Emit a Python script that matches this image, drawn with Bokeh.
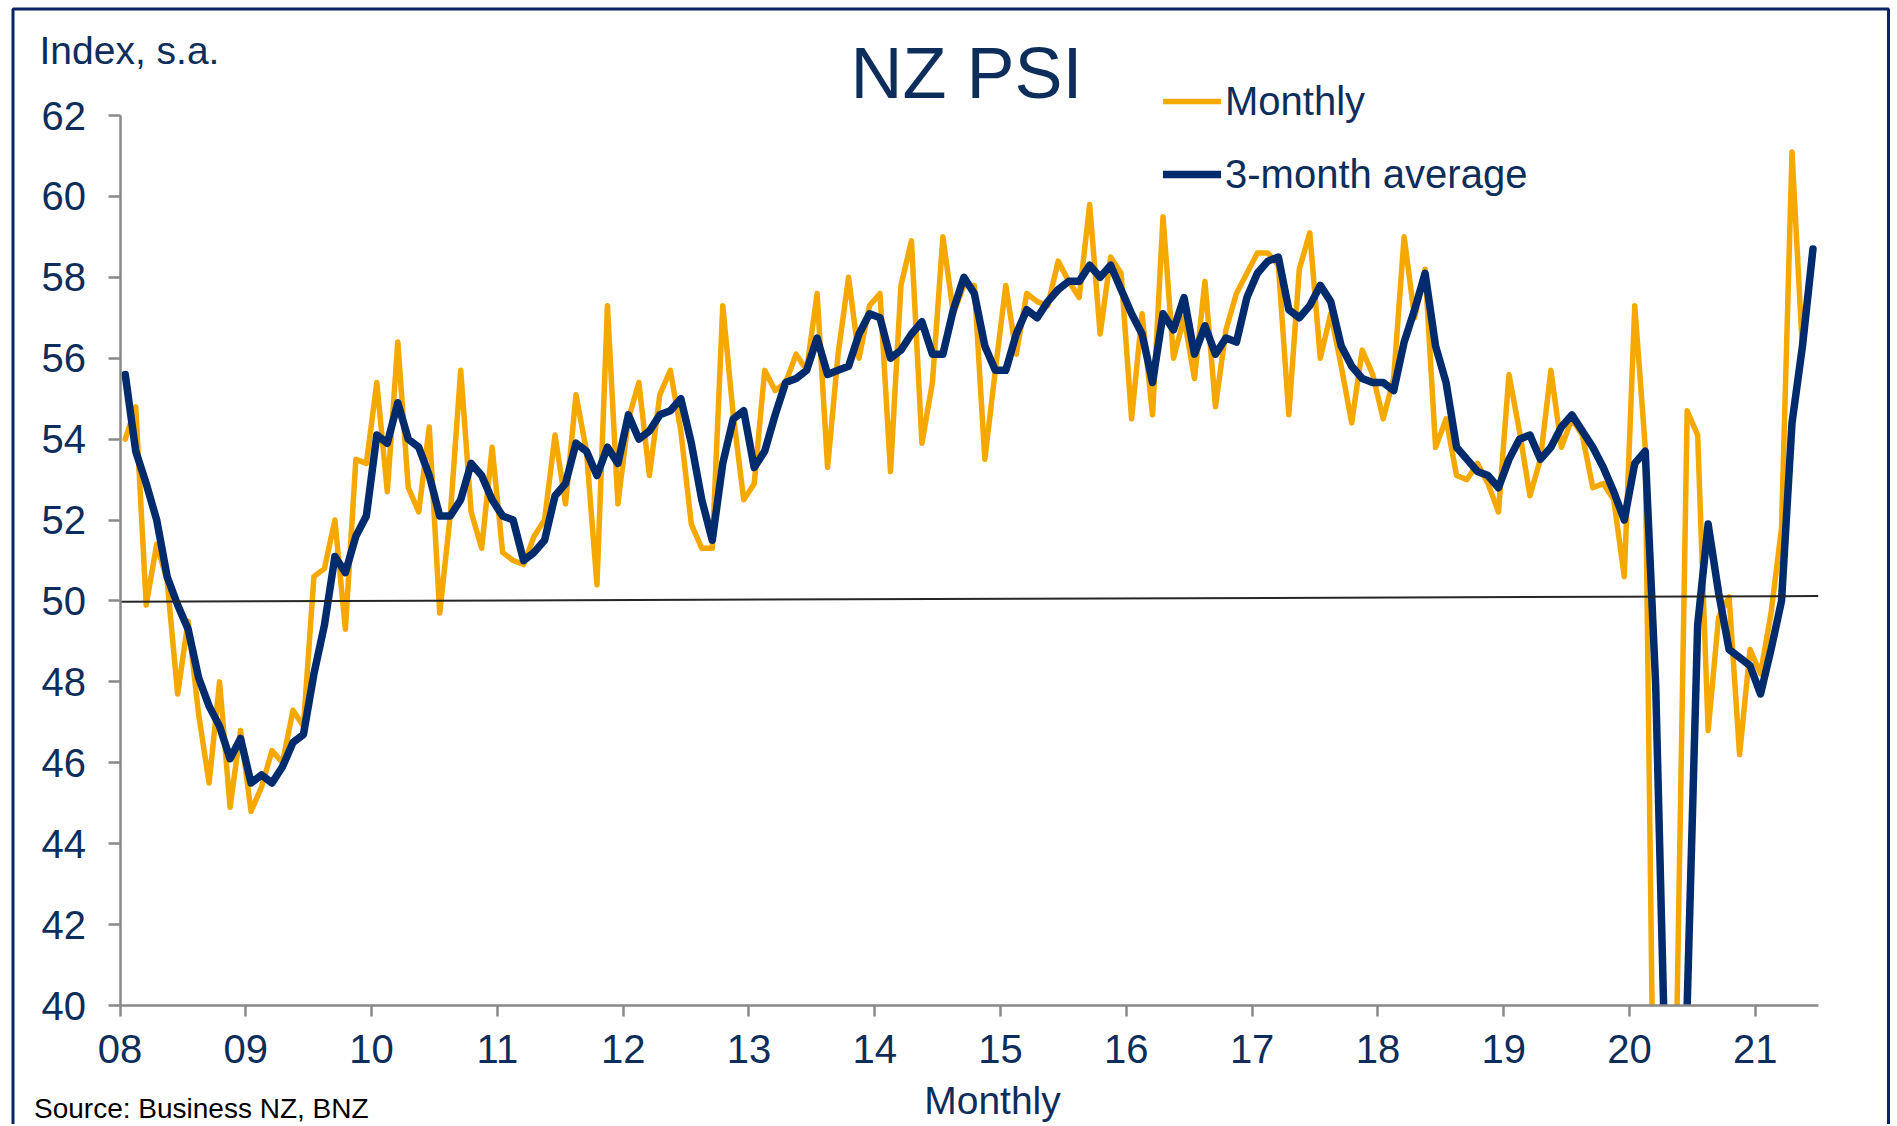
import numpy as np
from bokeh.plotting import figure
from bokeh.models import FixedTicker, Label, Legend, LegendItem, Range1d, BoxAnnotation
from bokeh.embed import file_html
from bokeh.resources import INLINE

# ---------------- data (Jan 2008 .. Jun 2021, monthly) ----------------
year_labels = ["08", "09", "10", "11", "12", "13", "14", "15", "16", "17", "18", "19", "20", "21"]

monthly = [
    54.0, 54.8, 49.9, 51.4, 50.5, 47.7, 49.5, 47.2, 45.5, 48.0, 44.9, 46.8,   # 2008
    44.8, 45.4, 46.3, 46.0, 47.3, 46.9, 50.6, 50.8, 52.0, 49.3, 53.5, 53.4,   # 2009
    55.4, 52.7, 56.4, 52.8, 52.2, 54.3, 49.7, 52.1, 55.7, 52.2, 51.3, 53.8,   # 2010
    51.2, 51.0, 50.9, 51.6, 52.0, 54.1, 52.4, 55.1, 53.7, 50.4, 57.3, 52.4,   # 2011
    54.5, 55.4, 53.1, 55.1, 55.7, 54.2, 51.9, 51.3, 51.3, 57.3, 54.6, 52.5,   # 2012
    52.9, 55.7, 55.2, 55.4, 56.1, 55.7, 57.6, 53.3, 56.1, 58.0, 56.0, 57.3,   # 2013
    57.6, 53.2, 57.8, 58.9, 53.9, 55.4, 59.0, 57.1, 57.8, 57.8, 53.5, 55.7,   # 2014
    57.8, 56.1, 57.6, 57.4, 57.3, 58.4, 57.9, 57.5, 59.8, 56.6, 58.5, 58.1,   # 2015
    54.5, 57.1, 54.6, 59.5, 56.0, 57.0, 55.5, 57.9, 54.8, 56.7, 57.6, 58.1,   # 2016
    58.6, 58.6, 58.3, 54.6, 58.2, 59.1, 56.0, 57.1, 55.8, 54.4, 56.2, 55.6,   # 2017
    54.5, 55.5, 59.0, 57.0, 58.2, 53.8, 54.5, 53.1, 53.0, 53.4, 52.9, 52.2,   # 2018
    55.6, 54.2, 52.6, 53.5, 55.7, 53.8, 54.5, 54.1, 52.8, 52.9, 52.5, 50.6,   # 2019
    57.3, 53.8, 32.5, 26.0, 39.4, 54.7, 54.1, 46.8, 49.6, 50.1, 46.2, 48.8,   # 2020
    48.2, 49.7, 51.8, 61.1, 56.2, 58.6,                                       # 2021
]

avg3 = [
    55.6, 53.7, 52.9, 52.0, 50.6, 49.9, 49.3, 48.1, 47.4, 46.9, 46.1, 46.6,   # 2008
    45.5, 45.7, 45.5, 45.9, 46.5, 46.7, 48.2, 49.4, 51.1, 50.7, 51.6, 52.1,   # 2009
    54.1, 53.9, 54.9, 54.0, 53.8, 53.1, 52.1, 52.1, 52.5, 53.4, 53.1, 52.5,   # 2010
    52.1, 52.0, 51.0, 51.2, 51.5, 52.6, 52.9, 53.9, 53.7, 53.1, 53.8, 53.4,   # 2011
    54.6, 54.0, 54.2, 54.6, 54.7, 55.0, 53.9, 52.5, 51.5, 53.4, 54.5, 54.7,   # 2012
    53.3, 53.7, 54.6, 55.4, 55.5, 55.7, 56.5, 55.6, 55.7, 55.8, 56.6, 57.1,   # 2013
    57.0, 56.0, 56.2, 56.6, 56.9, 56.1, 56.1, 57.2, 58.0, 57.6, 56.3, 55.7,   # 2014
    55.7, 56.6, 57.2, 57.0, 57.4, 57.7, 57.9, 57.9, 58.3, 58.0, 58.3, 57.7,   # 2015
    57.1, 56.6, 55.4, 57.1, 56.7, 57.5, 56.1, 56.8, 56.1, 56.5, 56.4, 57.5,   # 2016
    58.1, 58.4, 58.5, 57.2, 57.0, 57.3, 57.8, 57.4, 56.3, 55.8, 55.5, 55.4,   # 2017
    55.4, 55.2, 56.4, 57.2, 58.1, 56.3, 55.4, 53.8, 53.5, 53.2, 53.1, 52.8,   # 2018
    53.5, 54.0, 54.1, 53.5, 53.8, 54.3, 54.6, 54.2, 53.8, 53.3, 52.7, 52.0,   # 2019
    53.4, 53.7, 47.9, 37.4, 32.6, 40.0, 49.4, 51.9, 50.2, 48.8, 48.6, 48.4,   # 2020
    47.7, 48.8, 50.0, 54.4, 56.3, 58.7,                                       # 2021
]

y_ticks = [40, 42, 44, 46, 48, 50, 52, 54, 56, 58, 60, 62]
threshold = 50

# ---------------- styling ----------------
ORANGE = "#F5A900"
NAVY = "#002B6C"
TXT = "#0D2D5B"
GREY = "#898989"
BORDER = "#0A2566"
FONT = "Liberation Sans"

W, H = 1895, 1124
# pixel geometry of the axes box on the canvas
AX_L, AX_R, AX_T, AX_B = 119.5, 1817.7, 115.0, 1005.0

n_months = len(monthly)
x = np.arange(n_months) + 0.5          # points sit between the yearly ticks
year_ticks = [12 * i for i in range(len(year_labels))]

y0, y1 = y_ticks[0], y_ticks[-1]
ppx = (AX_R - AX_L) / n_months
ppy = (AX_B - AX_T) / (y1 - y0)
x_range = Range1d(-AX_L / ppx, n_months + (W - AX_R) / ppx)
y_range = Range1d(y0 - (H - AX_B) / ppy, y1 + AX_T / ppy)

p = figure(width=W, height=H, min_border=0, x_range=x_range, y_range=y_range,
           output_backend="svg", toolbar_location=None,
           background_fill_color="white", border_fill_color="white")
p.title.visible = False
p.xgrid.visible = False
p.ygrid.visible = False
p.outline_line_color = None

for ax in (p.xaxis, p.yaxis):
    ax.axis_line_color = GREY
    ax.axis_line_width = 2.5
    ax.major_tick_line_color = GREY
    ax.major_tick_line_width = 2.5
    ax.minor_tick_line_color = None
    ax.major_tick_in = 0
    ax.major_label_text_font = FONT
    ax.major_label_text_color = TXT

p.yaxis.fixed_location = 0
p.yaxis.bounds = (y0, y1)
p.yaxis.ticker = FixedTicker(ticks=y_ticks)
p.yaxis.major_tick_out = 12
p.yaxis.major_label_standoff = 22
p.yaxis.major_label_text_font_size = "40px"

p.xaxis.fixed_location = y0
p.xaxis.bounds = (0, n_months)
p.xaxis.ticker = FixedTicker(ticks=year_ticks)
p.xaxis.major_label_overrides = {t: lab for t, lab in zip(year_ticks, year_labels)}
p.xaxis.major_tick_out = 11
p.xaxis.major_label_standoff = 18
p.xaxis.major_label_text_font_size = "40px"

r_m = p.line(x, monthly, line_color=ORANGE, line_width=5.5, line_join="round", line_cap="round")
r_a = p.line(x, avg3, line_color=NAVY, line_width=7.5, line_join="round", line_cap="round")

# hide what falls below the bottom of the value axis (the chart is cut at 40)
p.add_layout(BoxAnnotation(top=y0, fill_color="white", fill_alpha=1.0,
                           line_color=None, level="glyph"))

# 50 reference line
p.segment(x0=[0], y0=[threshold - 0.02], x1=[n_months], y1=[threshold + 0.12],
          line_color="#262626", line_width=2)

legend = Legend(
    items=[LegendItem(label="Monthly", renderers=[r_m]),
           LegendItem(label="3-month average", renderers=[r_a])],
    location=(1163, H - 197), orientation="vertical",
    glyph_width=58, glyph_height=46, label_height=46, label_standoff=4, spacing=27,
    padding=0, margin=0, border_line_color=None, background_fill_alpha=0,
    label_text_font=FONT, label_text_font_size="40px", label_text_color=TXT,
)
p.add_layout(legend)

# frame around the whole chart (bottom edge falls outside the picture)
p.add_layout(BoxAnnotation(left=12.5, right=1888, top=H - 8.5, bottom=-20,
                           left_units="screen", right_units="screen",
                           top_units="screen", bottom_units="screen",
                           fill_alpha=0, line_color=BORDER, line_alpha=1.0, line_width=3))

def add_text(px, bottom_py, text, size, color=TXT, align="left"):
    # bottom_py: canvas pixel row of the bottom of the text box
    p.add_layout(Label(x=px, y=H - bottom_py, x_units="screen", y_units="screen", text=text,
                       text_font=FONT, text_font_size=size, text_color=color,
                       text_align=align, text_baseline="bottom"))

add_text(966, 112.5, "NZ PSI", "72px", align="center")
add_text(39, 71, "Index, s.a.", "39px")
add_text(992, 1121, "Monthly", "39px", align="center")
add_text(33.5, 1123, "Source: Business NZ, BNZ", "28px", color="#000000")

open("out.html", "w").write(file_html(p, INLINE))
